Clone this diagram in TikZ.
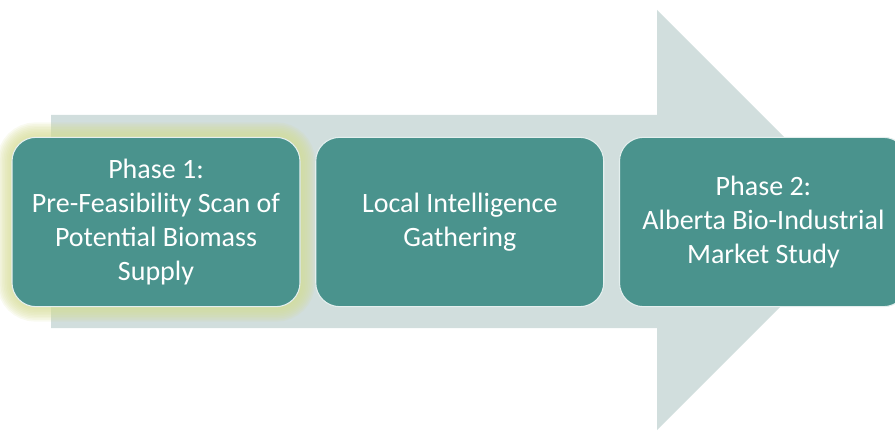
\documentclass[tikz,border=0pt]{standalone}
\usepackage{fontspec}
\setmainfont{Carlito}
\usetikzlibrary{positioning,backgrounds}
\definecolor{shaftgray}{HTML}{D1DEDD}
\definecolor{phaseteal}{HTML}{4A938D}
\definecolor{glowyellow}{HTML}{D6DC96}
\tikzset{
  phase/.style={draw=white!85!phaseteal, line width=0.8pt, fill=phaseteal, rounded corners=18pt, text=white, font=\fontsize{21}{25.4}\selectfont, align=center, minimum width=216pt, minimum height=127pt, inner sep=0pt},
  flow/.style={fill=shaftgray},
  halo/.style={draw=glowyellow, opacity=0.14, rounded corners=18pt},
}
\begin{document}
\begin{tikzpicture}[x=0.75pt, y=-0.75pt, node distance=11pt]
\useasboundingbox (0,0) rectangle (895,431);
\node[phase] (scan) at (156,222) {Phase 1:\\Pre-Feasibility Scan of\\Potential Biomass\\Supply};
\node[phase, right=of scan] (intel) {Local Intelligence\\Gathering};
\node[phase, right=of intel] (market) {Phase 2:\\Alberta Bio-Industrial\\Market Study};
\begin{scope}[on background layer]
  % big process arrow
  \fill[flow] (51,115) -- (657,115) -- (657,10) -- (867,220) -- (657,430) -- (657,328) -- (51,328) -- cycle;
  % soft glow round the first phase
  \foreach \i in {1,...,9}
    \draw[halo, line width=\i*2.4pt] (scan.south west) rectangle (scan.north east);
\end{scope}
\end{tikzpicture}
\end{document}
